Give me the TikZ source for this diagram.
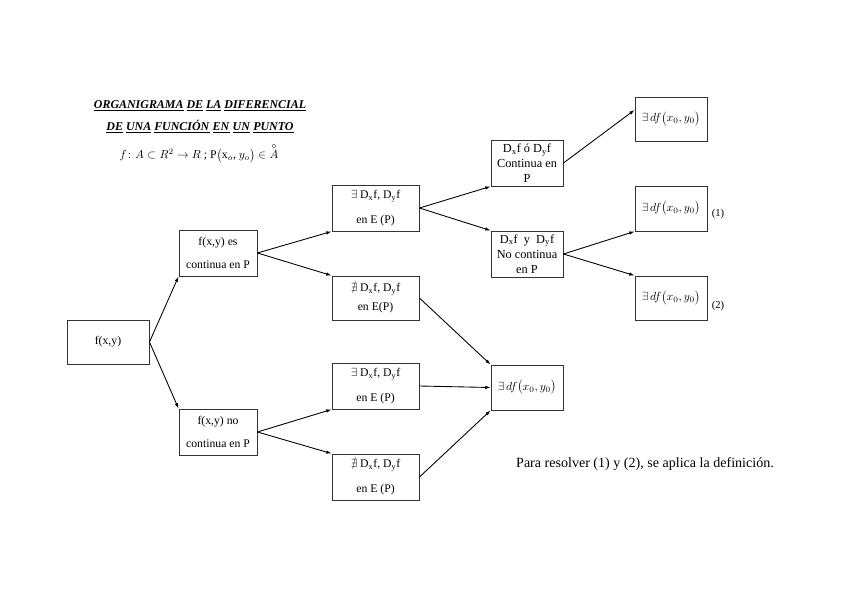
\documentclass[tikz,border=0pt]{standalone}
\usepackage{amsmath,amssymb}
\usepackage{fontspec}
\setmainfont{Liberation Serif}
\usetikzlibrary{arrows.meta}

\newcommand{\dxf}{D\textsubscript{x}f}
\newcommand{\dyf}{D\textsubscript{y}f}
\newcommand{\existsdf}{$\exists\,df\bigl(x_0,y_0\bigr)$}
\newcommand{\ultitle}[1]{\underline{\textbf{\textit{#1}}}}

\begin{document}
\begin{tikzpicture}[
  x=0.03cm, y=-0.03cm,
  every node/.style={font=\fontsize{10}{19}\selectfont},
  box/.style={draw=black!80, line width=0.8pt, align=center, inner sep=1pt, minimum width=2.16cm, minimum height=1.38cm},
  wide/.style={box, minimum width=2.61cm},
  mid/.style={box, minimum width=2.34cm},
  narrow/.style={box, font=\fontsize{10.5}{13}\selectfont},
  link/.style={->, line width=0.75pt},
  >={Latex[length=4.5pt,width=3pt]}
]
\useasboundingbox (0,0) rectangle (848,599);

\node[font=\fontsize{10.2}{12}\selectfont] (title1) at (200,106) {\ultitle{ORGANIGRAMA} \ultitle{DE} \ultitle{LA} \ultitle{DIFERENCIAL}};
\node[font=\fontsize{10.2}{12}\selectfont] (title2) at (200,127) {\ultitle{DE} \ultitle{UNA} \ultitle{FUNCIÓN} \ultitle{EN} \ultitle{UN} \ultitle{PUNTO}};
\node (domain) at (199,153) {$f\colon A\subset R^2\to R$ ; P$\bigl($x$_o$, $y_o\bigr)\in\overset{\circ}{A}$};

\node[box, minimum width=2.46cm, minimum height=1.32cm] (fxy) at (108,342) {f(x,y)};
\node[mid] (cont) at (218,253) {f(x,y) es\\continua en P};
\node[mid] (nocont) at (218,432) {f(x,y) no\\continua en P};

\node[wide] (exA) at (375.5,208) {$\exists$ \dxf , \dyf\\[2pt]en E (P)};
\node[wide, minimum height=1.32cm, font=\fontsize{10}{16}\selectfont] (noexA) at (375.5,298) {$\nexists$ \dxf , \dyf\\en E(P)};
\node[wide] (exB) at (375.5,386) {$\exists$ \dxf , \dyf\\[2pt]en E (P)};
\node[wide] (noexB) at (375.5,477) {$\nexists$ \dxf , \dyf\\[2pt]en E (P)};

\node[narrow] (somecont) at (527,163) {\dxf\ ó \dyf\\Continua en\\P};
\node[narrow] (bothnocont) at (527,254) {\dxf\ \ y \ \dyf\\No continua\\en P};
\node[box, minimum height=1.35cm] (nodf) at (527,387.5) {\existsdf};

\node[box, minimum height=1.32cm] (df1) at (671,119) {\existsdf};
\node[box, minimum height=1.35cm] (df2) at (671,208.5) {\existsdf};
\node[box, minimum height=1.32cm] (df3) at (671,298) {\existsdf};
\node[font=\fontsize{9}{11}\selectfont] (lbl1) at (718,214) {(1)};
\node[font=\fontsize{9}{11}\selectfont] (lbl2) at (718,306) {(2)};

\node[font=\fontsize{12}{14}\selectfont] (note) at (645,464) {Para resolver (1) y (2), se aplica la definición.};

\draw[link] (fxy.east) -- (cont.south west);
\draw[link] (fxy.east) -- (nocont.north west);
\draw[link] (cont.east) -- (exA.south west);
\draw[link] (cont.east) -- (noexA.north west);
\draw[link] (nocont.east) -- (exB.south west);
\draw[link] (nocont.east) -- (noexB.north west);
\draw[link] (exA.east) -- (somecont.south west);
\draw[link] (exA.east) -- (bothnocont.north west);
\draw[link] (noexA.east) -- (nodf.north west);
\draw[link] (exB.east) -- (nodf.west);
\draw[link] (noexB.east) -- (nodf.south west);
\draw[link] (somecont.east) -- ([yshift=0.27cm]df1.west);
\draw[link] (bothnocont.east) -- (df2.south west);
\draw[link] (bothnocont.east) -- (df3.north west);
\end{tikzpicture}
\end{document}
